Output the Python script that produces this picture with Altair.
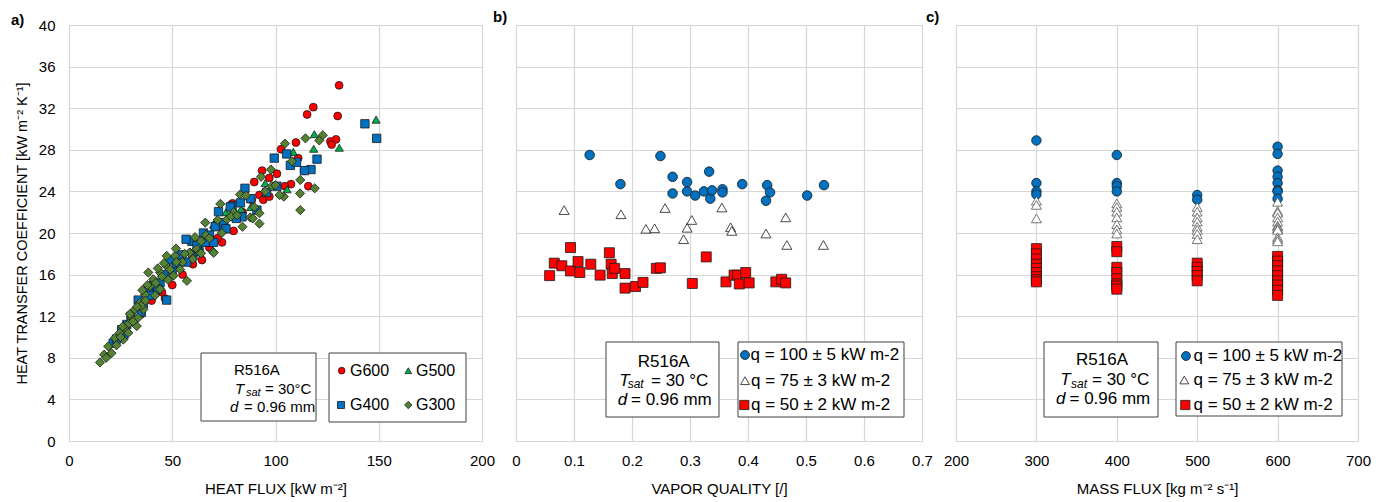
import altair as alt
import pandas as pd

FONT = "Liberation Sans"
H = 416

# ---------------- Panel a: heat flux vs HTC ----------------
g600_hf = [130.8, 118.3, 115.3, 130.1, 126.6, 129.3, 127.2, 109.9, 102.7, 111.0, 113.9, 115.9,
           107.5, 104.6, 93.5, 97.0, 100.7, 89.7, 92.2, 94.1, 97.0, 88.5, 79.2, 79.7, 74.1, 64.4,
           46.5, 35.0, 40.0, 45.0, 50.0, 55.0, 60.0, 68.0, 72.0, 84.0]
g600_htc = [34.2, 32.1, 31.4, 31.25, 28.8, 29.0, 28.5, 28.7, 28.05, 27.2, 26.0, 24.5,
            24.7, 24.5, 26.0, 25.3, 25.7, 24.9, 23.65, 23.2, 23.5, 23.2, 22.85, 20.2, 19.1, 17.4,
            13.7, 12.2, 13.5, 14.3, 15.0, 16.0, 17.0, 18.6, 19.5, 22.0]

g500_hf = [22, 28, 35, 42, 48, 55, 62, 70, 76, 83.3, 88.0, 95, 105.6, 108.6, 118.5, 118.8, 130.9, 148.7]
g500_htc = [9.5, 10.8, 12.5, 14.5, 16.0, 17.8, 19.0, 20.8, 22.0, 22.3, 22.5, 24.8, 24.2, 27.8, 28.1, 29.5, 28.2, 30.9]

g400_hf = [21.4, 25.5, 33.5, 38.4, 44.1, 49.0, 54.6, 59.5, 66.0, 70.0, 71.7, 79.0, 83.0, 47.3, 56.7,
           65.1, 70.8, 72.4, 78.1, 83.8, 85.2, 95.7, 100.7, 99.4, 105.4, 107.2, 110.2, 120.1, 117.2,
           143.3, 149.0, 23, 28, 30, 36, 41, 52, 60, 62, 75, 88, 91, 114,
           26.5, 31, 35, 39, 43, 46, 50, 57, 63, 68, 76, 81]
g400_htc = [9.4, 10.7, 13.55, 14.5, 15.2, 17.4, 17.9, 19.2, 19.1, 19.1, 20.7, 22.6, 22.9, 13.55, 19.4,
            20.0, 20.6, 22.05, 22.5, 21.55, 24.3, 23.9, 24.5, 27.2, 27.6, 26.5, 26.8, 27.1, 26.1,
            30.5, 29.1, 9.8, 11.2, 12.0, 13.2, 15.0, 16.8, 17.8, 18.8, 21.0, 23.3, 22.2, 26.0,
            10.2, 11.6, 12.4, 14.0, 14.6, 16.0, 16.3, 17.2, 18.2, 19.8, 20.4, 21.4]

g300_hf = [15, 17, 18, 20.6, 19, 22.2, 24.6, 26.3, 27.1, 28.7, 30.3, 32.8, 31.9, 33.5, 34.4, 36, 36.8,
           39.2, 41.7, 40.8, 38.4, 44.1, 44.1, 47.3, 47.3, 50.6, 51.4, 53.8, 57.1, 58.7, 61.9, 63.5,
           66, 69.7, 73.3, 76.5, 79.7, 87.8,
           114.5, 122.9, 121.2, 104.6, 97.8, 93, 112, 98.2, 111.9, 104, 102, 82.8, 85.7, 89.7, 92.2,
           89, 92.2, 72, 66.3, 70.1, 58.3, 63.9, 51.8, 78.5, 81.4,
           23, 25, 29, 31, 35, 37, 42, 45, 48, 55, 60, 68, 74, 84, 95, 100, 108, 112, 119,
           26, 29.5, 33, 35.5, 38, 43, 46, 49, 52, 56, 61, 64]
g300_htc = [7.55, 8.3, 8.0, 8.45, 9.1, 9.9, 10.4, 9.75, 10.9, 10.4, 11.85, 11.05, 12.65, 11.85, 13.3, 12.65, 14.1,
            14.9, 14.0, 15.55, 16.2, 14.6, 16.2, 16.8, 17.8, 15.9, 17.8, 16.5, 15.4, 18.1, 18.45, 18.1,
            21.0, 18.2, 22.8, 21.3, 22.0, 21.5,
            29.1, 29.4, 28.9, 28.6, 26.1, 25.4, 25.1, 24.5, 23.8, 23.5, 23.65, 23.7, 23.6, 22.5, 21.9,
            21.4, 20.9, 21.25, 19.8, 18.1, 18.1, 18.05, 18.5, 21.6, 21.7,
            9.2, 10.0, 11.3, 11.5, 13.0, 13.5, 15.2, 15.8, 15.5, 17.2, 17.5, 19.5, 20.0, 20.6, 24.0, 24.6, 26.9, 22.2, 24.3,
            11.0, 12.2, 12.9, 14.5, 15.0, 16.6, 17.1, 16.5, 17.2, 18.0, 19.6, 19.2]

# ---------------- Panel b: vapor quality vs HTC ----------------
q100_x = [0.127, 0.249, 0.180, 0.270, 0.270, 0.295, 0.295, 0.309, 0.324, 0.333, 0.335, 0.338, 0.356,
          0.356, 0.390, 0.433, 0.438, 0.431, 0.502, 0.531]
q100_h = [27.5, 27.4, 24.7, 25.4, 23.8, 24.9, 24.0, 23.6, 24.0, 25.9, 23.3, 24.1, 24.2,
          23.9, 24.7, 24.6, 23.9, 23.1, 23.6, 24.6]
q75_x = [0.083, 0.181, 0.257, 0.355, 0.303, 0.295, 0.224, 0.239, 0.289, 0.370, 0.372, 0.431, 0.465, 0.467, 0.530]
q75_h = [22.2, 21.8, 22.4, 22.45, 21.25, 20.5, 20.4, 20.45, 19.4, 20.55, 20.2, 19.95, 21.5, 18.85, 18.85]
q50_x = [0.094, 0.066, 0.079, 0.058, 0.094, 0.107, 0.110, 0.129, 0.145, 0.161, 0.164, 0.166, 0.170, 0.188,
         0.188, 0.206, 0.219, 0.242, 0.249, 0.328, 0.304, 0.362, 0.376, 0.382, 0.396, 0.385, 0.402,
         0.448, 0.458, 0.465]
q50_h = [18.6, 17.1, 16.85, 15.9, 16.35, 17.25, 16.2, 17.0, 15.95, 18.1, 17.0, 16.1, 16.6, 16.1,
         14.7, 14.85, 15.25, 16.6, 16.65, 17.7, 15.15, 15.3, 15.95, 15.95, 16.2, 15.1, 15.2,
         15.3, 15.55, 15.2]

# ---------------- Panel c: mass flux vs HTC ----------------
c100_g = [300, 300, 300, 300, 400, 400, 400, 400, 500, 500, 600, 600, 600, 600, 600, 600, 600, 600]
c100_h = [28.9, 24.8, 24.0, 23.7, 27.5, 24.8, 24.5, 24.0, 23.65, 23.2, 28.3, 27.6, 26.0, 25.4, 24.8, 24.1, 24.0, 23.3]
c75_g = [300, 300, 300, 400, 400, 400, 400, 400, 400, 400, 500, 500, 500, 500, 500, 500, 500, 500,
         600, 600, 600, 600, 600, 600, 600, 600, 600, 600, 600, 600]
c75_h = [23.1, 22.7, 21.4, 22.85, 22.5, 22.05, 21.5, 20.85, 20.35, 19.95, 22.5, 22.05, 21.5, 21.1, 20.6, 20.3, 19.9, 19.4,
         23.0, 22.1, 21.95, 21.5, 21.1, 20.7, 20.6, 20.4, 20.3, 19.6, 19.4, 19.2]
c50_g = [300] * 9 + [400] * 8 + [500] * 5 + [600] * 9
c50_h = [18.5, 18.0, 17.5, 17.0, 16.6, 16.2, 15.8, 15.5, 15.3,
         18.7, 18.2, 16.7, 16.2, 15.6, 15.1, 14.9, 14.6,
         17.1, 16.7, 16.3, 15.9, 15.4,
         17.75, 17.3, 16.85, 16.35, 15.9, 15.4, 15.0, 14.5, 14.0]

y_ticks = list(range(0, 41, 4))


def one():
    return alt.Data(values=[{}])


def txt(x, y, s, size=15, style="normal", align="left", weight="normal"):
    return alt.Chart(one()).mark_text(
        text=s, fontSize=size, fontStyle=style, fontWeight=weight, align=align,
        baseline="middle", font=FONT, color="black"
    ).encode(x=alt.value(x), y=alt.value(y))


def box(x1, x2, y1, y2):
    return alt.Chart(one()).mark_rect(fill="white", stroke="#404040", strokeWidth=1).encode(
        x=alt.value(x1), x2=alt.value(x2), y=alt.value(y1), y2=alt.value(y2))


def sym(x, y, shape, fill, stroke, size):
    return alt.Chart(one()).mark_point(
        shape=shape, filled=True, fill=fill, stroke=stroke, strokeWidth=0.8, size=size, opacity=1
    ).encode(x=alt.value(x), y=alt.value(y))


def xaxis(vals, title, fmt=None):
    kw = dict(values=vals, title=title, grid=True, ticks=False, domain=False,
              labelFontSize=15, labelPadding=12, labelFlush=False, labelOverlap=False,
              labelColor="black", titleFontSize=15, titleFontWeight="normal",
              titleColor="black", titlePadding=13, gridColor="#d6d6d6", gridWidth=1.2)
    if fmt:
        kw["format"] = fmt
    return alt.Axis(**kw)


def yaxis(show):
    if show:
        return alt.Axis(values=y_ticks, title="HEAT TRANSFER COEFFICIENT  [kW m⁻² K⁻¹]", grid=True,
                        ticks=False, domain=False, labelFontSize=15, labelPadding=14,
                        labelFlush=False, labelOverlap=False, labelColor="black",
                        titleFontSize=14.5, titleFontWeight="normal", titleColor="black",
                        titlePadding=9, gridColor="#d6d6d6", gridWidth=1.2)
    return alt.Axis(values=y_ticks, title=None, labels=False, grid=True, ticks=False,
                    domain=False, gridColor="#d6d6d6", gridWidth=1.2)


def scatter(xs, ys, shape, fill, stroke, size, xdom, xax, yshow, sw=0.8):
    df = pd.DataFrame({"x": xs, "y": ys})
    return alt.Chart(df).mark_point(
        shape=shape, filled=True, fill=fill, stroke=stroke, strokeWidth=sw, size=size, opacity=1
    ).encode(
        x=alt.X("x:Q", scale=alt.Scale(domain=xdom, nice=False, zero=False), axis=xax),
        y=alt.Y("y:Q", scale=alt.Scale(domain=[0, 40], nice=False), axis=yaxis(yshow)),
    )


# ---- Panel a
xa = xaxis([0, 50, 100, 150, 200], "HEAT FLUX [kW m⁻²]")
dom_a = [0, 200]
pa = alt.layer(
    scatter(g600_hf, g600_htc, "circle", "#FF0000", "#1a1a1a", 62, dom_a, xa, True),
    scatter(g500_hf, g500_htc, "triangle-up", "#00B050", "#1a1a1a", 66, dom_a, xa, True),
    scatter(g400_hf, g400_htc, "square", "#0070C0", "#1a1a1a", 70, dom_a, xa, True),
    scatter(g300_hf, g300_htc, "diamond", "#548235", "#1a1a1a", 85, dom_a, xa, True),
    txt(-58, -5, "a)", 15, weight="bold"),
    box(132, 247, 328, 396),
    txt(165, 345, "R516A", 15),
    txt(166, 364, "T", 15, "italic"),
    txt(177, 368, "sat", 11, "italic"),
    txt(196, 364, "= 30°C", 15),
    txt(161, 382, "d", 15, "italic"),
    txt(175, 382, "= 0.96 mm", 15),
    box(260, 397, 328, 397),
    sym(272.7, 345.7, "circle", "#FF0000", "#1a1a1a", 45),
    txt(281, 345.7, "G600", 16),
    sym(339.3, 345.7, "triangle-up", "#00B050", "#1a1a1a", 45),
    txt(347, 345.7, "G500", 16),
    sym(272, 380, "square", "#0070C0", "#1a1a1a", 50),
    txt(281, 380, "G400", 16),
    sym(339.3, 380, "diamond", "#548235", "#1a1a1a", 55),
    txt(347, 380, "G300", 16),
).properties(width=413, height=H)

# ---- Panel b
xb = xaxis([0, 0.1, 0.2, 0.3, 0.4, 0.5, 0.6, 0.7], "VAPOR QUALITY [/]", "~g")
dom_b = [0, 0.7]
pb = alt.layer(
    scatter(q100_x, q100_h, "circle", "#0070C0", "#1a1a1a", 92, dom_b, xb, False),
    scatter(q75_x, q75_h, "triangle-up", "white", "#1a1a1a", 100, dom_b, xb, False),
    scatter(q50_x, q50_h, "square", "#FF0000", "#1a1a1a", 100, dom_b, xb, False),
    txt(-23, -8, "b)", 15, weight="bold"),
    box(90, 203, 317, 392),
    txt(121.7, 336.7, "R516A", 17),
    txt(103.3, 355.7, "T", 17, "italic"),
    txt(111.7, 359.3, "sat", 12, "italic"),
    txt(135, 355.7, "= 30 °C", 17),
    txt(101.7, 375, "d", 17, "italic"),
    txt(115, 375, "= 0.96 mm", 17),
    box(222, 388, 317, 392),
    sym(229, 330, "circle", "#0070C0", "#1a1a1a", 80),
    txt(234.5, 330, "q = 100 ± 5 kW m-2", 17),
    sym(229, 355.7, "triangle-up", "white", "#1a1a1a", 80),
    txt(235, 355.7, "q = 75 ± 3 kW m-2", 17),
    sym(228.3, 380, "square", "#FF0000", "#1a1a1a", 85),
    txt(235, 380, "q = 50 ± 2 kW m-2", 17),
).properties(width=406, height=H)

# ---- Panel c
xc = xaxis([200, 300, 400, 500, 600, 700], "MASS FLUX [kg m⁻² s⁻¹]")
dom_c = [200, 700]
pc = alt.layer(
    scatter(c100_g, c100_h, "circle", "#0070C0", "#1a1a1a", 90, dom_c, xc, False),
    scatter(c75_g, c75_h, "triangle-up", "white", "#555555", 100, dom_c, xc, False),
    scatter(c50_g, c50_h, "square", "#FF0000", "#1a1a1a", 100, dom_c, xc, False),
    txt(-30, -8, "c)", 15, weight="bold"),
    box(88, 202, 317, 392),
    txt(120, 335, "R516A", 17),
    txt(104.3, 355, "T", 17, "italic"),
    txt(115, 359, "sat", 12, "italic"),
    txt(136, 355, "= 30 °C", 17),
    txt(100, 374.3, "d", 17, "italic"),
    txt(113.5, 374.3, "= 0.96 mm", 17),
    box(220, 386, 317, 391),
    sym(230, 331, "circle", "#0070C0", "#1a1a1a", 80),
    txt(237.5, 331, "q = 100 ± 5 kW m-2", 17),
    sym(228.3, 355, "triangle-up", "white", "#1a1a1a", 80),
    txt(237.5, 355, "q = 75 ± 3 kW m-2", 17),
    sym(229.3, 380, "square", "#FF0000", "#1a1a1a", 85),
    txt(237.5, 380, "q = 50 ± 2 kW m-2", 17),
).properties(width=402, height=H)

chart = alt.hconcat(pa, pb, pc, spacing=34, bounds="flush").properties(
    padding={"left": 10, "top": 9, "right": 10, "bottom": 5},
    background="white",
).configure_view(stroke="#404040", strokeWidth=1).configure(font=FONT)

chart.save("out.html", embed_options={"renderer": "svg", "actions": False})
